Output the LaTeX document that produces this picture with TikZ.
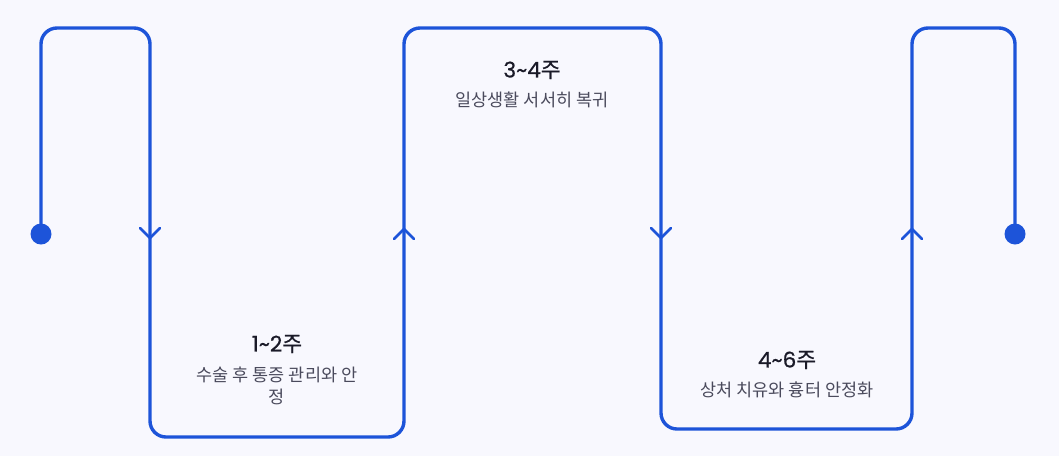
\documentclass[tikz,border=0pt]{standalone}
\usepackage{fontspec}
\setmainfont{Noto Sans CJK KR}
\newfontfamily\kr{Noto Sans CJK KR}
\newfontfamily\krm{Noto Sans CJK KR}[FakeBold=0.8]
\newfontfamily\popm{Poppins}[FakeBold=0.8]
\definecolor{bg}{RGB}{248,248,254}
\definecolor{flow}{RGB}{29,84,217}
\definecolor{ttl}{RGB}{26,26,40}
\definecolor{bdy}{RGB}{74,74,92}
\begin{document}
\begin{tikzpicture}[x=1pt,y=-1pt,
  flowline/.style={draw=flow,line width=3.4pt,rounded corners=16pt,line join=round},
  chev/.style={draw=flow,line width=2.6pt,line cap=round,line join=miter},
  enddot/.style={circle,fill=flow,inner sep=0pt,minimum size=21pt},
  title/.style={text=ttl,font=\popm\fontsize{21.5}{24}\selectfont,inner sep=0pt,anchor=center},
  body/.style={text=bdy,font=\kr\fontsize{17.5}{22}\selectfont,inner sep=0pt,anchor=center,align=center}]
\fill[bg] (0,0) rectangle (1059,456);
\useasboundingbox (0,0) rectangle (1059,456);
\node[enddot] (d1) at (41,234) {};
\node[enddot] (d2) at (1015,234) {};
\coordinate (a1) at (41,28);
\coordinate (a2) at (150,28);
\coordinate (b1) at (150,437);
\coordinate (b2) at (404,437);
\coordinate (c1) at (404,28);
\coordinate (c2) at (661,28);
\coordinate (e1) at (661,429);
\coordinate (e2) at (912,429);
\coordinate (f1) at (912,28);
\coordinate (f2) at (1015,28);
\draw[flowline] (d1.center) -- (a1) -- (a2) -- (b1) -- (b2) -- (c1) -- (c2) -- (e1) -- (e2) -- (f1) -- (f2) -- (d2.center);
% chevrons
\draw[chev] (140,228) -- (150,238) -- (160,228);
\draw[chev] (394,239) -- (404,229) -- (414,239);
\draw[chev] (651,228) -- (661,238) -- (671,228);
\draw[chev] (902,239) -- (912,229) -- (922,239);
% texts
\node[title] (t1) at (277,344) {1\char`~2{\krm 주}};
\node[body] (s1) at (277,386) {수술 후 통증 관리와 안\\정};
\node[title] (t2) at (532,70) {3\char`~4{\krm 주}};
\node[body] (s2) at (532,100) {일상생활 서서히 복귀};
\node[title] (t3) at (787,360) {4\char`~6{\krm 주}};
\node[body] (s3) at (787,390) {상처 치유와 흉터 안정화};
\end{tikzpicture}
\end{document}
